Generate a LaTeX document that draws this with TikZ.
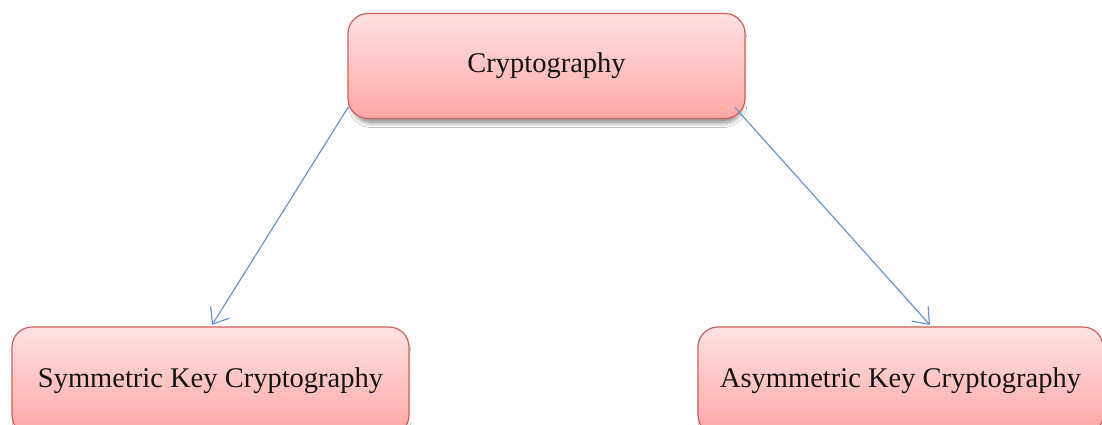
\documentclass[tikz,border=0pt]{standalone}
\usepackage{fontspec}
\setmainfont{Liberation Serif}
\usetikzlibrary{arrows.meta,calc,shadows.blur}

\definecolor{boxtop}{HTML}{FFE2E2}
\definecolor{boxbottom}{HTML}{FFA6A6}
\definecolor{boxline}{HTML}{CD5F5C}
\definecolor{linkblue}{HTML}{6A95CC}
\definecolor{ink}{HTML}{141414}

\tikzset{
  catbox/.style={
    draw=boxline, line width=1.2pt, rounded corners=20pt,
    top color=boxtop, bottom color=boxbottom,
    blur shadow={shadow xshift=1pt, shadow yshift=-6pt, shadow blur radius=4pt,
                 shadow blur extra rounding=2pt, shadow opacity=40, shadow scale=0.985},
    text=ink, font=\fontsize{28.5}{34}\selectfont,
    inner sep=0pt, outer sep=0pt
  },
  link/.style={draw=linkblue, line width=1.2pt,
    -{Straight Barb[length=14pt,width=22pt,line width=1.2pt]}}
}

\begin{document}
\begin{tikzpicture}[x=1pt,y=-1pt]
  \useasboundingbox (0,0) rectangle (1102,425);
  \clip (0,0) rectangle (1102,425);
  \fill[white] (0,0) rectangle (1102,425);

  % top-level category
  \node[catbox, minimum width=397pt, minimum height=105pt] (root) at (546.5,66) {Cryptography};

  % the two branches
  \node[catbox, minimum width=397pt, minimum height=108pt] (sym) at (210.5,381) {Symmetric Key Cryptography};
  \node[catbox, minimum width=405pt, minimum height=108pt] (asym) at (900.5,381) {Asymmetric Key Cryptography};

  % connectors
  \draw[link] ($(root.south west)+(0,-11)$) -- ($(sym.north)+(1.5,-2)$);
  \draw[link] ($(root.south east)+(-10,-11)$) -- ($(asym.north)+(29.5,-2)$);
\end{tikzpicture}
\end{document}
